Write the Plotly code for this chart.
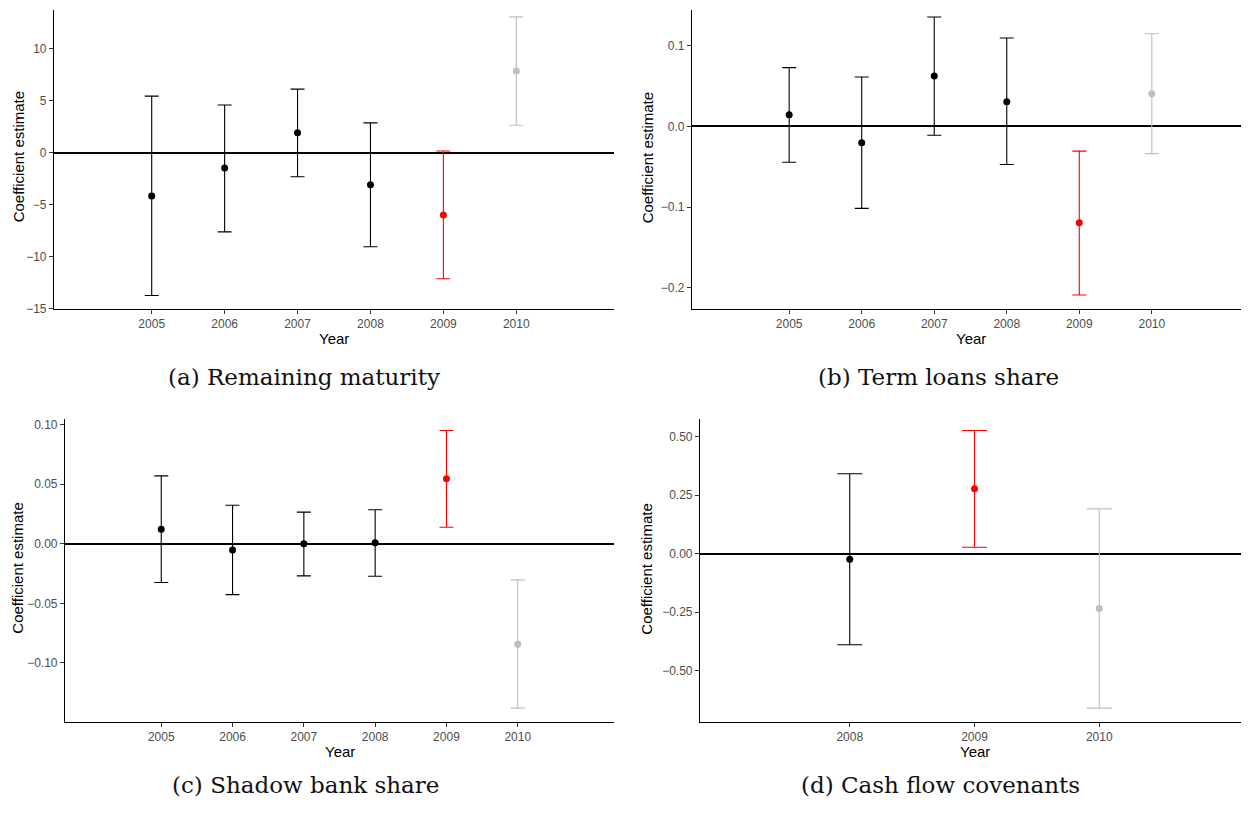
import plotly.graph_objects as go

# ---------------- data ----------------
years_a = [2005, 2006, 2007, 2008, 2009, 2010]
est_a = [-4.16, -1.49, 1.90, -3.08, -6.00, 7.84]
hi_a = [5.43, 4.57, 6.10, 2.86, 0.16, 13.05]
lo_a = [-13.74, -7.62, -2.32, -9.05, -12.13, 2.63]
period_a = ["pre", "pre", "pre", "pre", "crisis", "post"]

years_b = [2005, 2006, 2007, 2008, 2009, 2010]
est_b = [0.0143, -0.0204, 0.0624, 0.0306, -0.1195, 0.0404]
hi_b = [0.0727, 0.0612, 0.1355, 0.1094, -0.0306, 0.1147]
lo_b = [-0.0445, -0.1016, -0.0110, -0.0473, -0.2089, -0.0338]
period_b = ["pre", "pre", "pre", "pre", "crisis", "post"]

years_c = [2005, 2006, 2007, 2008, 2009, 2010]
est_c = [0.0122, -0.0052, 0.0000, 0.0008, 0.0544, -0.0844]
hi_c = [0.0569, 0.0323, 0.0265, 0.0285, 0.0950, -0.0303]
lo_c = [-0.0325, -0.0427, -0.0270, -0.0273, 0.0138, -0.1379]
period_c = ["pre", "pre", "pre", "pre", "crisis", "post"]

years_d = [2008, 2009, 2010]
est_d = [-0.0236, 0.2767, -0.2342]
hi_d = [0.341, 0.5253, 0.191]
lo_d = [-0.389, 0.027, -0.6597]
period_d = ["pre", "crisis", "post"]

captions = ["(a) Remaining maturity", "(b) Term loans share",
            "(c) Shadow bank share", "(d) Cash flow covenants"]
y_title = "Coefficient estimate"
x_title = "Year"

colors = {"pre": "#000000", "crisis": "#FF0000", "post": "#BEBEBE"}

# ---------------- layout geometry (screen pixels) ----------------
OFF = 8                       # default page body margin
W, H = 1249 - OFF, 814 - OFF  # figure size so that it fills the window


def px(xs):
    return (xs - OFF) / W


def py(ys):
    return 1 - (ys - OFF) / H


panels = [
    dict(x0=54, x1=614, y0=8, y1=310, xr=[2003.66, 2011.34], yr=[-15.0, 13.71],
         tv=[-15, -10, -5, 0, 5, 10], fmt="d", capw=7, tx=18, cx=304, cy=379),
    dict(x0=692, x1=1249, y0=8, y1=310, xr=[2003.66, 2011.34], yr=[-0.2257, 0.1441],
         tv=[-0.2, -0.1, 0.0, 0.1], fmt=".1f", capw=7, tx=647, cx=938, cy=379),
    dict(x0=65, x1=614, y0=422, y1=728, xr=[2003.65, 2011.35], yr=[-0.1495, 0.1043],
         tv=[-0.10, -0.05, 0.0, 0.05, 0.10], fmt=".2f", capw=7, tx=18, cx=305, cy=792),
    dict(x0=700, x1=1249, y0=422, y1=728, xr=[2006.8, 2011.2], yr=[-0.7187, 0.573],
         tv=[-0.5, -0.25, 0.0, 0.25, 0.5], fmt=".2f", capw=12.5, tx=647, cx=940, cy=792),
]
data = [
    (years_a, est_a, hi_a, lo_a, period_a),
    (years_b, est_b, hi_b, lo_b, period_b),
    (years_c, est_c, hi_c, lo_c, period_c),
    (years_d, est_d, hi_d, lo_d, period_d),
]

sans = "Liberation Sans, Arial, sans-serif"
fig = go.Figure()
annotations = []
layout_axes = {}

for i, (p, (yrs, est, hi, lo, per)) in enumerate(zip(panels, data)):
    n = i + 1
    xa = "x" if n == 1 else f"x{n}"
    ya = "y" if n == 1 else f"y{n}"
    for grp in ["pre", "crisis", "post"]:
        idx = [k for k, g in enumerate(per) if g == grp]
        if not idx:
            continue
        xs = [yrs[k] for k in idx]
        ys = [est[k] for k in idx]
        up = [hi[k] - est[k] for k in idx]
        dn = [est[k] - lo[k] for k in idx]
        fig.add_trace(go.Scatter(
            x=xs, y=ys, mode="markers", xaxis=xa, yaxis=ya, showlegend=False,
            marker=dict(color=colors[grp], size=7),
            error_y=dict(type="data", symmetric=False, array=up, arrayminus=dn,
                         color=colors[grp], thickness=1.1, width=p["capw"]),
        ))
    xkey = "xaxis" if n == 1 else f"xaxis{n}"
    ykey = "yaxis" if n == 1 else f"yaxis{n}"
    layout_axes[xkey] = dict(
        domain=[max(0, px(p["x0"])), min(1, px(p["x1"]))], anchor=ya, range=p["xr"],
        tickmode="array", tickvals=yrs, ticktext=[str(v) for v in yrs],
        showgrid=False, zeroline=False, showline=True, linecolor="black", linewidth=1.2,
        ticks="outside", ticklen=4, tickcolor="#333333", tickwidth=1,
        tickfont=dict(family=sans, size=12, color="#4D4D4D"),
    )
    layout_axes[ykey] = dict(
        domain=[max(0, py(p["y1"])), min(1, py(p["y0"]))], anchor=xa, range=p["yr"],
        tickmode="array", tickvals=p["tv"], tickformat=p["fmt"],
        showgrid=False, zeroline=True, zerolinecolor="black", zerolinewidth=1.5,
        showline=True, linecolor="black", linewidth=1.2,
        ticks="outside", ticklen=4, tickcolor="#333333", tickwidth=1,
        tickfont=dict(family=sans, size=12, color="#4D4D4D"),
    )
    annotations.append(dict(
        text=y_title, x=px(p["tx"]), y=py((p["y0"] + p["y1"]) / 2 - 2),
        xref="paper", yref="paper", showarrow=False, textangle=-90,
        xanchor="center", yanchor="middle",
        font=dict(family=sans, size=15, color="black"),
    ))
    annotations.append(dict(
        text=x_title, x=px((p["x0"] + p["x1"]) / 2), y=py(p["y1"] + 30),
        xref="paper", yref="paper", showarrow=False,
        xanchor="center", yanchor="middle",
        font=dict(family=sans, size=15, color="black"),
    ))
    annotations.append(dict(
        text=captions[i], x=px(p["cx"]), y=py(p["cy"]),
        xref="paper", yref="paper", showarrow=False,
        xanchor="center", yanchor="middle",
        font=dict(family="DejaVu Serif, serif", size=23, color="#111111"),
    ))

fig.update_layout(
    width=W, height=H, margin=dict(l=0, r=0, t=0, b=0),
    paper_bgcolor="white", plot_bgcolor="white",
    annotations=annotations, showlegend=False,
    **layout_axes,
)

fig.write_html("out.html")
